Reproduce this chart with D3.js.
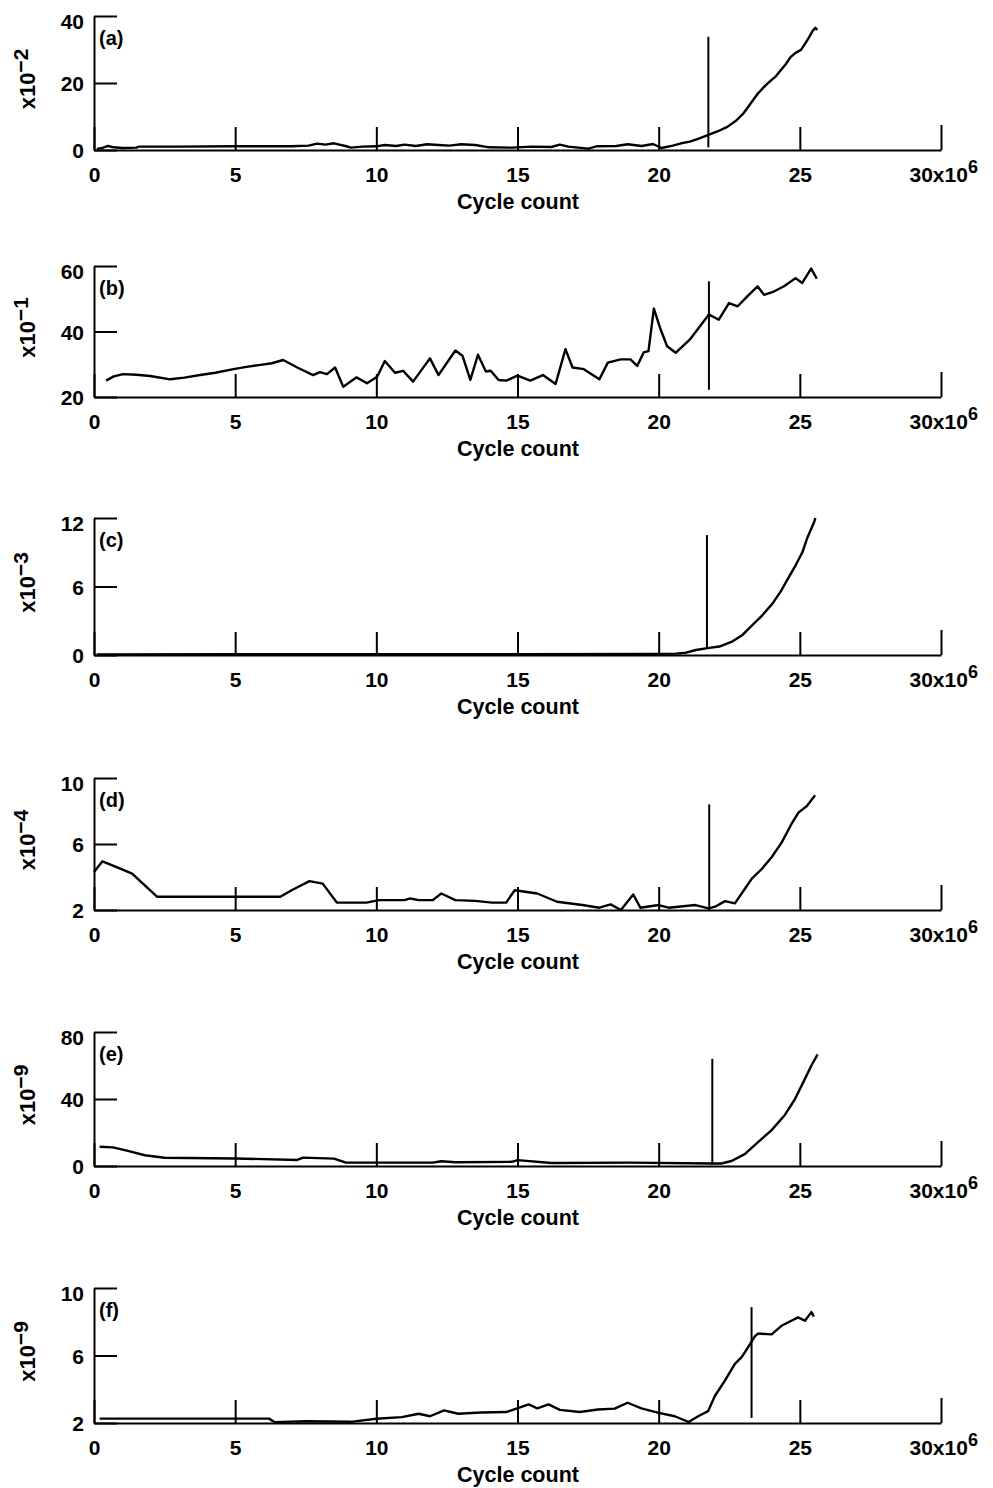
<!DOCTYPE html>
<html>
<head>
<meta charset="utf-8">
<script src="https://cdnjs.cloudflare.com/ajax/libs/d3/7.8.5/d3.min.js"></script>
<style>
  body { margin: 0; background: #fff; }
  svg text { font-family: "Liberation Sans", Arial, sans-serif; font-weight: bold; fill: #000; }
  .curve { fill: none; stroke: #000; stroke-width: 2.4; stroke-linejoin: round; }
  .marker { stroke: #000; stroke-width: 2; }
  .axis path, .axis line { stroke: #000; stroke-width: 2; }
</style>
</head>
<body>
<div id="chart"></div>
<script>
// ---- data (cycle counts in units of 10^6) ----
var xTicks = [0, 5, 10, 15, 20, 25, 30];
var panelNames = ["(a)", "(b)", "(c)", "(d)", "(e)", "(f)"];
var yExponents = ["\u22122", "\u22121", "\u22123", "\u22124", "\u22129", "\u22129"];
var yDomains = [[0, 40], [20, 60], [0, 12], [2, 10], [0, 80], [2, 10]];
var yTickValues = [[0, 20, 40], [20, 40, 60], [0, 6, 12], [2, 6, 10], [0, 40, 80], [2, 6, 10]];

var aCycles = [0.1, 0.3, 0.5, 0.7, 1.0, 1.5, 1.6, 3.0, 5.0, 7.0, 7.6, 7.9, 8.2, 8.5, 8.9, 9.1, 9.5, 10.0, 10.3, 10.7, 11.0, 11.4, 11.8, 12.2, 12.6, 13.0, 13.5, 14.0, 14.8, 15.5, 16.2, 16.5, 16.8, 17.5, 17.8, 18.5, 18.9, 19.4, 19.8, 20.1, 20.5, 20.8, 21.1, 21.4, 21.76, 22.1, 22.43, 22.75, 23.02, 23.25, 23.5, 23.75, 23.97, 24.15, 24.33, 24.5, 24.68, 24.85, 25.04, 25.2, 25.33, 25.45, 25.55, 25.62];
var aValues = [0.3, 0.6, 1.2, 0.8, 0.6, 0.7, 1.0, 1.0, 1.1, 1.1, 1.3, 1.9, 1.6, 2.0, 1.2, 0.7, 1.0, 1.1, 1.5, 1.2, 1.6, 1.2, 1.7, 1.5, 1.3, 1.7, 1.5, 0.8, 0.7, 1.0, 0.9, 1.6, 1.0, 0.4, 1.1, 1.2, 1.7, 1.2, 1.8, 0.6, 1.3, 2.0, 2.5, 3.3, 4.5, 5.6, 6.9, 8.8, 11.1, 13.8, 16.7, 19.0, 20.7, 22.0, 23.9, 25.6, 27.8, 29.0, 29.9, 31.9, 33.7, 35.5, 36.5, 35.8];

var bCycles = [0.43, 0.7, 1.03, 1.5, 1.99, 2.7, 3.2, 3.76, 4.3, 4.94, 5.4, 5.9, 6.3, 6.7, 7.2, 7.76, 8.0, 8.25, 8.54, 8.83, 9.3, 9.67, 10.03, 10.3, 10.66, 10.95, 11.3, 11.9, 12.2, 12.8, 13.05, 13.33, 13.6, 13.88, 14.05, 14.33, 14.6, 15.0, 15.45, 15.9, 16.35, 16.7, 16.95, 17.35, 17.9, 18.2, 18.65, 19.0, 19.24, 19.47, 19.64, 19.83, 20.07, 20.3, 20.6, 21.1, 21.78, 22.13, 22.49, 22.8, 23.14, 23.5, 23.73, 24.08, 24.44, 24.85, 25.08, 25.4, 25.6];
var bValues = [25.0, 26.3, 27.0, 26.8, 26.4, 25.4, 25.9, 26.7, 27.4, 28.5, 29.2, 29.8, 30.3, 31.3, 29.0, 26.7, 27.6, 27.0, 29.0, 23.1, 26.0, 24.2, 26.2, 31.0, 27.4, 28.0, 24.7, 31.8, 26.7, 34.2, 32.6, 25.2, 32.9, 27.8, 28.0, 25.2, 25.0, 26.5, 25.0, 26.7, 24.0, 34.6, 29.0, 28.5, 25.4, 30.5, 31.5, 31.5, 29.5, 33.6, 34.0, 47.0, 40.6, 35.5, 33.5, 37.5, 45.2, 43.6, 48.7, 47.7, 50.7, 53.8, 51.2, 52.2, 53.8, 56.3, 54.8, 59.2, 56.1];

var cCycles = [0.1, 5, 10, 15, 20, 20.61, 20.97, 21.32, 21.73, 22.15, 22.62, 22.97, 23.33, 23.68, 24.03, 24.33, 24.56, 24.86, 25.09, 25.27, 25.5, 25.55];
var cValues = [0.05, 0.07, 0.08, 0.08, 0.1, 0.12, 0.2, 0.44, 0.6, 0.74, 1.2, 1.76, 2.65, 3.5, 4.5, 5.6, 6.6, 7.9, 9.0, 10.3, 11.6, 12.0];

var dCycles = [0, 0.3, 0.8, 1.35, 2.24, 6.6, 7.0, 7.63, 8.1, 8.6, 9.65, 10.1, 11.0, 11.2, 11.5, 12.0, 12.3, 12.8, 13.5, 14.1, 14.6, 14.9, 15.7, 16.4, 17.3, 17.9, 18.3, 18.66, 19.1, 19.35, 20.0, 20.35, 21.3, 21.77, 22.0, 22.35, 22.7, 23.06, 23.3, 23.66, 24.0, 24.36, 24.7, 24.95, 25.25, 25.54];
var dValues = [4.3, 4.95, 4.6, 4.2, 2.8, 2.8, 3.2, 3.75, 3.6, 2.45, 2.45, 2.6, 2.6, 2.7, 2.6, 2.6, 3.0, 2.6, 2.55, 2.45, 2.45, 3.2, 3.0, 2.5, 2.3, 2.14, 2.34, 2.0, 2.94, 2.14, 2.3, 2.14, 2.3, 2.1, 2.2, 2.54, 2.4, 3.3, 3.9, 4.5, 5.2, 6.1, 7.2, 7.9, 8.3, 8.95];

var eCycles = [0.2, 0.67, 1.2, 1.8, 2.5, 5.0, 7.2, 7.4, 8.5, 8.9, 12.0, 12.3, 12.8, 14.8, 15.0, 16.2, 19.0, 21.9, 22.22, 22.58, 23.05, 23.52, 24.0, 24.47, 24.82, 25.18, 25.41, 25.63];
var eValues = [11.5, 11.1, 9.0, 6.4, 4.9, 4.5, 3.6, 5.0, 4.4, 2.1, 2.0, 2.8, 2.2, 2.5, 3.5, 1.8, 2.0, 1.5, 1.5, 3.0, 7.1, 14.3, 21.4, 30.5, 39.7, 52.0, 60.0, 66.6];

var fCycles = [0.2, 6.2, 6.4, 7.5, 9.1, 10.0, 10.9, 11.5, 11.9, 12.4, 12.9, 13.7, 14.6, 15.4, 15.7, 16.1, 16.5, 17.2, 17.85, 18.44, 18.9, 19.39, 20.0, 20.57, 21.06, 21.4, 21.75, 21.99, 22.34, 22.7, 22.94, 23.17, 23.41, 23.53, 24.0, 24.35, 24.7, 24.94, 25.18, 25.41, 25.5];
var fValues = [2.26, 2.26, 2.05, 2.1, 2.07, 2.25, 2.35, 2.55, 2.4, 2.75, 2.55, 2.62, 2.65, 3.1, 2.87, 3.1, 2.78, 2.65, 2.8, 2.85, 3.2, 2.87, 2.6, 2.4, 2.06, 2.4, 2.7, 3.6, 4.5, 5.5, 5.9, 6.5, 7.15, 7.3, 7.25, 7.76, 8.06, 8.26, 8.06, 8.57, 8.3];

// vertical marker line in each panel: where it stands and how far it reaches
var markerCycles = [21.76, 21.78, 21.71, 21.79, 21.9, 23.29];
var markerLows = [0.8, 22.2, 0.68, 2.0, 1.0, 2.3];
var markerHighs = [33.8, 55.3, 10.5, 8.4, 64.0, 8.87];

var seriesCycles = [aCycles, bCycles, cCycles, dCycles, eCycles, fCycles];
var seriesValues = [aValues, bValues, cValues, dValues, eValues, fValues];

(function() {
  var width = 993, height = 1488;

  // layout of the six stacked panels
  var panelTops = [16, 266, 518, 778, 1032, 1288],
    panelBottoms = [150, 397, 655, 910, 1166, 1423];

  var svg = d3.select("#chart")
    .append("svg")
    .attr("width", width)
    .attr("height", height);

  var x = d3.scaleLinear()
    .domain([0, 30])
    .range([94, 941]);

  panelNames.forEach(function(name, i) {
    var top = panelTops[i], bottom = panelBottoms[i];

    var y = d3.scaleLinear()
      .domain(yDomains[i])
      .range([bottom, top]);

    var g = svg.append("g").attr("class", "panel");

    // x axis, ticks pointing up into the plot
    var xAxis = g.append("g")
      .attr("class", "axis")
      .attr("transform", "translate(0," + bottom + ")")
      .call(d3.axisBottom(x)
        .tickValues(xTicks)
        .tickSize(-23)
        .tickSizeOuter(0)
        .tickPadding(17)
        .tickFormat(d3.format("d")));
    xAxis.selectAll("text")
      .attr("font-size", 21);
    // the last tick is a bit longer and carries the multiplier
    xAxis.selectAll(".tick")
      .filter(function(d) { return d == 30; })
      .each(function() {
        var t = d3.select(this);
        t.select("line").attr("y2", -25);
        var txt = t.select("text")
          .attr("text-anchor", "start")
          .attr("x", -32)
          .text("30");
        txt.append("tspan").text("x10");
        txt.append("tspan").attr("font-size", 18).attr("dy", "-0.5em").text("6");
      });

    // y axis, ticks pointing right
    var yAxis = g.append("g")
      .attr("class", "axis")
      .attr("transform", "translate(" + x(0) + ",0)")
      .call(d3.axisLeft(y)
        .tickValues(yTickValues[i])
        .tickSize(-23)
        .tickSizeOuter(0)
        .tickPadding(10)
        .tickFormat(d3.format("d")));
    yAxis.selectAll("text")
      .attr("font-size", 21)
      .attr("dy", function(d) { return d == yDomains[i][1] ? "0.6em" : "0.36em"; });

    // y axis title, rotated, with a superscript exponent
    var mid = (top + bottom) / 2;
    var ylab = g.append("text")
      .attr("transform", "translate(35," + (mid - 4) + ") rotate(-90)")
      .attr("text-anchor", "middle")
      .attr("font-size", 22)
      .text("x10");
    ylab.append("tspan")
      .attr("dy", "-0.32em")
      .attr("font-size", 21)
      .text(yExponents[i]);

    g.append("text")
      .attr("x", x(0) + 5)
      .attr("y", top + 29)
      .attr("font-size", 20)
      .text(name);

    g.append("text")
      .attr("x", 518)
      .attr("y", bottom + 59)
      .attr("text-anchor", "middle")
      .attr("font-size", 21.5)
      .text("Cycle count");

    // vertical marker
    g.append("line")
      .attr("class", "marker")
      .attr("x1", x(markerCycles[i]))
      .attr("x2", x(markerCycles[i]))
      .attr("y1", y(markerHighs[i]))
      .attr("y2", y(markerLows[i]));

    // measured curve
    var pts = seriesCycles[i].map(function(c, j) { return [c, seriesValues[i][j]]; });
    var line = d3.line()
      .x(function(d) { return x(d[0]); })
      .y(function(d) { return y(d[1]); });
    g.append("path")
      .datum(pts)
      .attr("class", "curve")
      .attr("d", line);
  });
})();
</script>
</body>
</html>
